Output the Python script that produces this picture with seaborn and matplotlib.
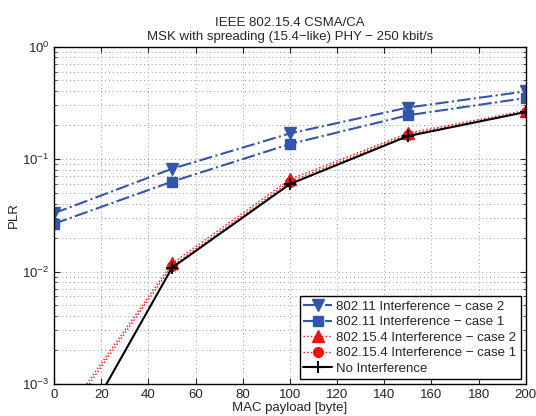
import numpy as np
import pandas as pd
import matplotlib
matplotlib.use("Agg")
import matplotlib.pyplot as plt
import seaborn as sns

payload = [0, 50, 100, 150, 200]
wifi_case2 = [0.033, 0.082, 0.169, 0.287, 0.40]
wifi_case1 = [0.0266, 0.063, 0.136, 0.245, 0.349]
zb_case2 = [0.00039, 0.0118, 0.066, 0.170, 0.270]
zb_case1 = [0.00036, 0.0112, 0.063, 0.165, 0.262]
no_interf = [0.00015, 0.0108, 0.060, 0.160, 0.262]

sns.set_style("ticks")
plt.rcParams['font.family'] = ['Liberation Sans', 'DejaVu Sans']
plt.rcParams['font.size'] = 9.5

fig = plt.figure(figsize=(5.36, 4.16), dpi=100)
ax = fig.add_axes([0.101, 0.077, 0.880, 0.811])

blue = "#3355aa"
red = "#ee1111"

sns.lineplot(x=payload, y=wifi_case2, ax=ax, color=blue, linestyle="-.", lw=1.5,
             marker="v", markersize=8, label="802.11 Interference \u2212 case 2")
sns.lineplot(x=payload, y=wifi_case1, ax=ax, color=blue, linestyle="-.", lw=1.5,
             marker="s", markersize=6.5, label="802.11 Interference \u2212 case 1")
sns.lineplot(x=payload, y=zb_case2, ax=ax, color=red, linestyle=":", lw=1,
             marker="^", markersize=8, label="802.15.4 Interference \u2212 case 2")
sns.lineplot(x=payload, y=zb_case1, ax=ax, color=red, linestyle=":", lw=1,
             marker="o", markersize=7, label="802.15.4 Interference \u2212 case 1")
sns.lineplot(x=payload, y=no_interf, ax=ax, color="black", linestyle="-", lw=1.5,
             marker="+", markersize=9, label="No Interference")

# matlab-style markers: edge same colour as the line
for ln in ax.get_lines():
    ln.set_markeredgecolor(ln.get_color())
    ln.set_markerfacecolor(ln.get_color())
    ln.set_markeredgewidth(1.5 if ln.get_marker() == "+" else 1.0)

ax.set_yscale("log")
ax.set_xlim(0, 200)
ax.set_ylim(1e-3, 1)
ax.set_xticks(np.arange(0, 201, 20))
ax.grid(True, which="major", linestyle=(0, (1, 3)), color="#999999", lw=0.7)
ax.grid(True, which="minor", axis="y", linestyle=(0, (1, 3)), color="#999999", lw=0.7)
ax.tick_params(direction="in", which="both", top=True, right=True, length=4)
ax.tick_params(which="minor", length=2)
for s in ax.spines.values():
    s.set_linewidth(1.0)
    s.set_color("black")

ax.set_xlabel("MAC payload [byte]", labelpad=1)
ax.set_ylabel("PLR", labelpad=2)
ax.set_title("IEEE 802.15.4 CSMA/CA\nMSK with spreading (15.4\u2212like) PHY \u2212 250 kbit/s",
             fontsize=9.5, pad=5, linespacing=1.2)

leg = ax.legend(loc="lower right", fancybox=False, edgecolor="black", framealpha=1,
                borderaxespad=0.4, handlelength=2.2, labelspacing=0.25, borderpad=0.3,
                handletextpad=0.3)
leg.get_frame().set_linewidth(1.0)

fig.savefig("out.png", dpi=100)
